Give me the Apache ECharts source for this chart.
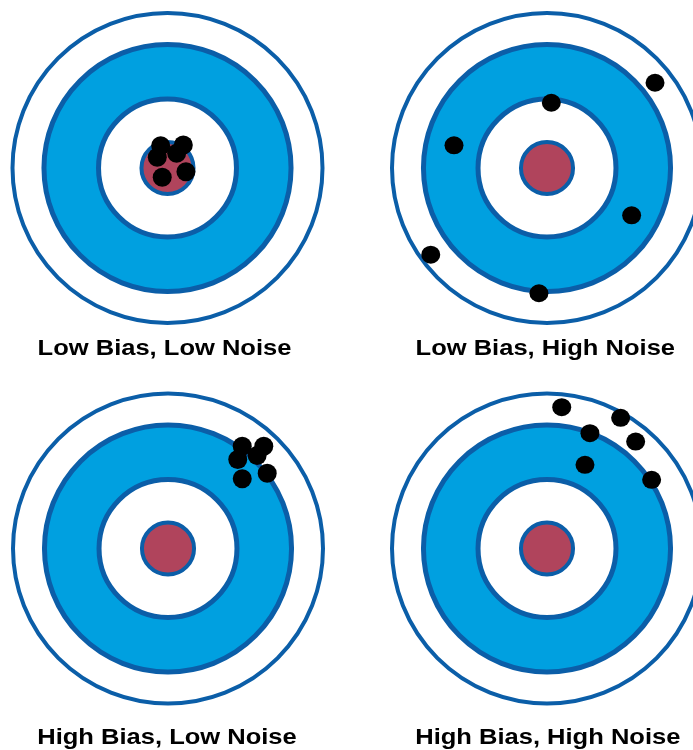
<!DOCTYPE html>
<html>
<head>
<meta charset="utf-8">
<script src="https://cdn.jsdelivr.net/npm/echarts@6/dist/echarts.min.js"></script>
<style>html,body{margin:0;padding:0;background:#fff}#c{width:693px;height:750px}</style>
</head>
<body>
<div id="c"></div>
<script>
// ---- data ----
const panelTitles = ['Low Bias, Low Noise', 'Low Bias, High Noise', 'High Bias, Low Noise', 'High Bias, High Noise'];
// ring radii (target units, outer ring = 10)
const ringRadii = [10, 7.97, 4.45, 1.68];
// shots (x, y) in target units, centre of target = (0,0)
const shotsLowBiasLowNoise = [[-0.44, 1.44], [1.02, 1.48], [-0.66, 0.69], [0.59, 0.95], [-0.34, -0.60], [1.19, -0.24]];
const shotsLowBiasHighNoise = [[6.97, 5.50], [0.28, 4.21], [-6.00, 1.46], [5.46, -3.05], [-7.50, -5.59], [-0.52, -8.08]];
const shotsHighBiasLowNoise = [[4.79, 6.60], [6.18, 6.60], [4.50, 5.74], [5.75, 6.00], [4.79, 4.50], [6.40, 4.86]];
const shotsHighBiasHighNoise = [[0.95, 9.12], [4.75, 8.43], [2.77, 7.44], [5.72, 6.90], [2.45, 5.40], [6.75, 4.43]];
const allShots = [shotsLowBiasLowNoise, shotsLowBiasHighNoise, shotsHighBiasLowNoise, shotsHighBiasHighNoise];

// ---- styles / layout ----
const ringFill = ['#ffffff', '#00a0e0', '#ffffff', '#b0445c'];
const ringStrokeW = [4, 5, 5, 4];
const strokeColor = '#0b5ea8';
const centres = [[167.5, 168], [547, 168], [168, 548.5], [547, 548.5]];
const half = 9, px = 15.5;
const size = 2 * half * px;
const labelPos = [[164.5, 349], [545.3, 349], [167, 738], [547.8, 738]];
const dotSize = [[19, 19], [19, 18], [19, 19], [19, 18]];

const grids = [], xAxes = [], yAxes = [], series = [], graphics = [];
centres.forEach((c, i) => {
  grids.push({left: c[0] - size / 2, top: c[1] - size / 2, width: size, height: size});
  xAxes.push({type: 'value', gridIndex: i, min: -half, max: half, show: false});
  yAxes.push({type: 'value', gridIndex: i, min: -half, max: half, show: false});
  series.push({
    type: 'custom', xAxisIndex: i, yAxisIndex: i, clip: false, silent: true, z: 1,
    data: ringRadii.map((r, k) => [0, 0, r, k]),
    renderItem: function (params, api) {
      const p = api.coord([api.value(0), api.value(1)]);
      const s = api.size([api.value(2), api.value(2)]);
      const k = api.value(3);
      return {
        type: 'circle',
        shape: {cx: p[0], cy: p[1], r: s[0]},
        style: {fill: ringFill[k], stroke: strokeColor, lineWidth: ringStrokeW[k]}
      };
    }
  });
  series.push({
    type: 'scatter', xAxisIndex: i, yAxisIndex: i, clip: false, silent: true, z: 5,
    symbol: 'circle', symbolSize: dotSize[i],
    itemStyle: {color: '#000000', opacity: 1},
    data: allShots[i]
  });
  graphics.push({
    type: 'text', x: labelPos[i][0], y: labelPos[i][1], scaleX: 1.16, z: 10,
    style: {
      text: panelTitles[i], align: 'center', verticalAlign: 'middle',
      font: 'bold 22px "Liberation Sans", Arial, sans-serif', fill: '#000000'
    }
  });
});

const chart = echarts.init(document.getElementById('c'));
chart.setOption({
  animation: false,
  backgroundColor: '#ffffff',
  grid: grids, xAxis: xAxes, yAxis: yAxes,
  series: series,
  graphic: graphics
});
</script>
</body>
</html>
